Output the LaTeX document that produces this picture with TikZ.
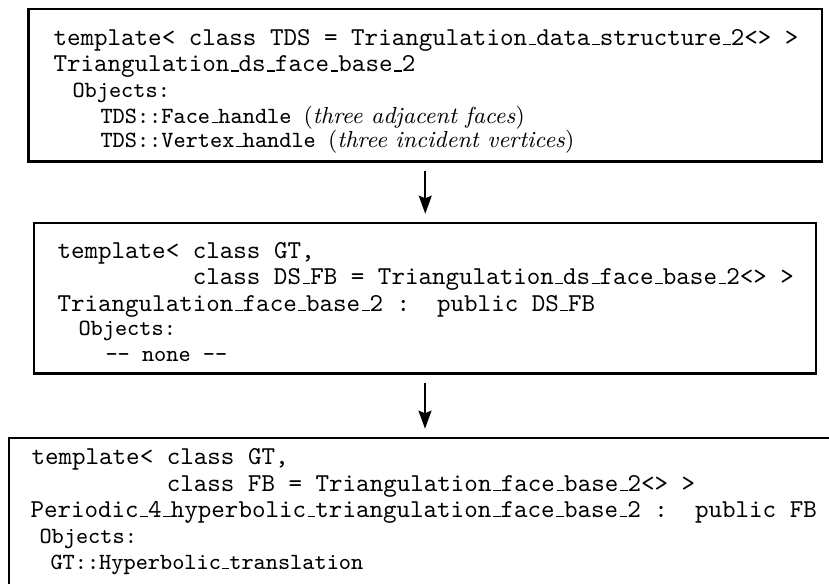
\documentclass[tikz,border=0pt]{standalone}
\usetikzlibrary{arrows.meta,fit}
\newcommand{\usc}{\leavevmode\kern.06em\vbox{\hrule width.3em}}
\tikzset{
  boxframe/.style={draw, line width=0.8pt, inner sep=0pt},
  codeline/.style={anchor=base west, inner sep=0pt, font=\fontsize{10}{12}\selectfont\ttfamily},
  objline/.style={anchor=base west, inner sep=0pt, font=\fontsize{9}{11}\selectfont\ttfamily},
  arr/.style={-{Stealth[length=7pt,width=5pt,inset=1pt]}, line width=0.8pt, shorten <=3.2pt, shorten >=3.2pt}
}
\newcommand{\remark}[1]{{\fontsize{9}{11}\selectfont\rmfamily(\textit{#1})}}
\begin{document}
\begin{tikzpicture}[x=0.388pt,y=-0.388pt]
\useasboundingbox (0,0) rectangle (829,583);
\fill[white] (0,0) rectangle (829,583);
\clip (0,0) rectangle (829,583);
% boxes
\node[boxframe, fit={(28.5,9) (822,161.5)}] (b1) {};
\node[boxframe, fit={(34,223) (816,373.5)}] (b2) {};
\node[boxframe, fit={(9,438) (841,620)}] (b3) {};
% box 1 text
\node[codeline] (l11) at (53,45) {template< class TDS = Triangulation\usc data\usc structure\usc 2<> >};
\node[codeline] (l12) at (53,71.5) {Triangulation\usc ds\usc face\usc base\usc 2};
\node[objline] (l13) at (72,97) {Objects:};
\node[objline] (l14) at (100,123) {TDS::Face\usc handle \remark{three adjacent faces}};
\node[objline] (l15) at (100,147) {TDS::Vertex\usc handle \remark{three incident vertices}};
% box 2 text
\node[codeline] (l21) at (57,258) {template< class GT,};
\node[codeline] (l22) at (57,284) {\hspace*{5.25em}class DS\usc FB = Triangulation\usc ds\usc face\usc base\usc 2<> >};
\node[codeline] (l23) at (57,311) {Triangulation\usc face\usc base\usc 2 :\ \ public DS\usc FB};
\node[objline] (l24) at (78,335) {Objects:};
\node[objline] (l25) at (105,361) {-\kern0pt- none -\kern0pt-};
% box 3 text
\node[codeline] (l31) at (31,464) {template< class GT,};
\node[codeline] (l32) at (31,491) {\hspace*{5.25em}class FB = Triangulation\usc face\usc base\usc 2<> >};
\node[codeline] (l33) at (30,517) {Periodic\usc 4\usc hyperbolic\usc triangulation\usc face\usc base\usc 2 :\ \ public FB};
\node[objline] (l34) at (39,543) {Objects:};
\node[objline] (l35) at (50,569) {GT::Hyperbolic\usc translation};
% arrows
\draw[arr] (b1.south) -- (b1.south |- b2.north);
\draw[arr] (b2.south) -- (b2.south |- b3.north);
\end{tikzpicture}
\end{document}
